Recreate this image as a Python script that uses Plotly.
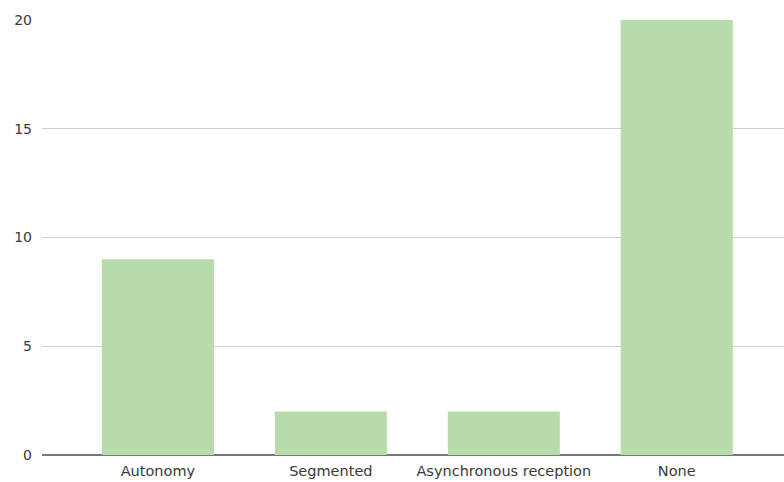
import plotly.graph_objects as go

categories = ["Autonomy", "Segmented", "Asynchronous reception", "None"]
counts = [9, 2, 2, 20]
y_ticks = [0, 5, 10, 15, 20]

fig = go.Figure(
    go.Bar(
        x=list(range(len(categories))),
        y=counts,
        marker=dict(color="#b7dbab", line=dict(width=0)),
        width=0.648,
        hoverinfo="skip",
    )
)

fig.update_layout(
    width=784,
    height=482,
    margin=dict(l=42, r=0, t=20, b=27),
    paper_bgcolor="white",
    plot_bgcolor="white",
    font=dict(family="DejaVu Sans, Arial, sans-serif", size=13.5, color="#3a3a3a"),
    showlegend=False,
    xaxis=dict(
        range=[-0.67, 3.62],
        tickmode="array",
        tickvals=list(range(len(categories))),
        ticktext=categories,
        showgrid=False,
        zeroline=False,
        showline=False,
        ticks="",
        ticklabelstandoff=5,
        tickfont=dict(size=14.5, color="#3a3a3a"),
    ),
    yaxis=dict(
        range=[0, 20],
        tickmode="array",
        tickvals=y_ticks,
        showgrid=True,
        gridcolor="#d0d0d0",
        gridwidth=1,
        zeroline=True,
        zerolinecolor="#777777",
        zerolinewidth=1.5,
        ticks="",
        ticklabelstandoff=9,
        tickfont=dict(size=14, color="#3a3a3a"),
    ),
)

fig.write_html("out.html")
